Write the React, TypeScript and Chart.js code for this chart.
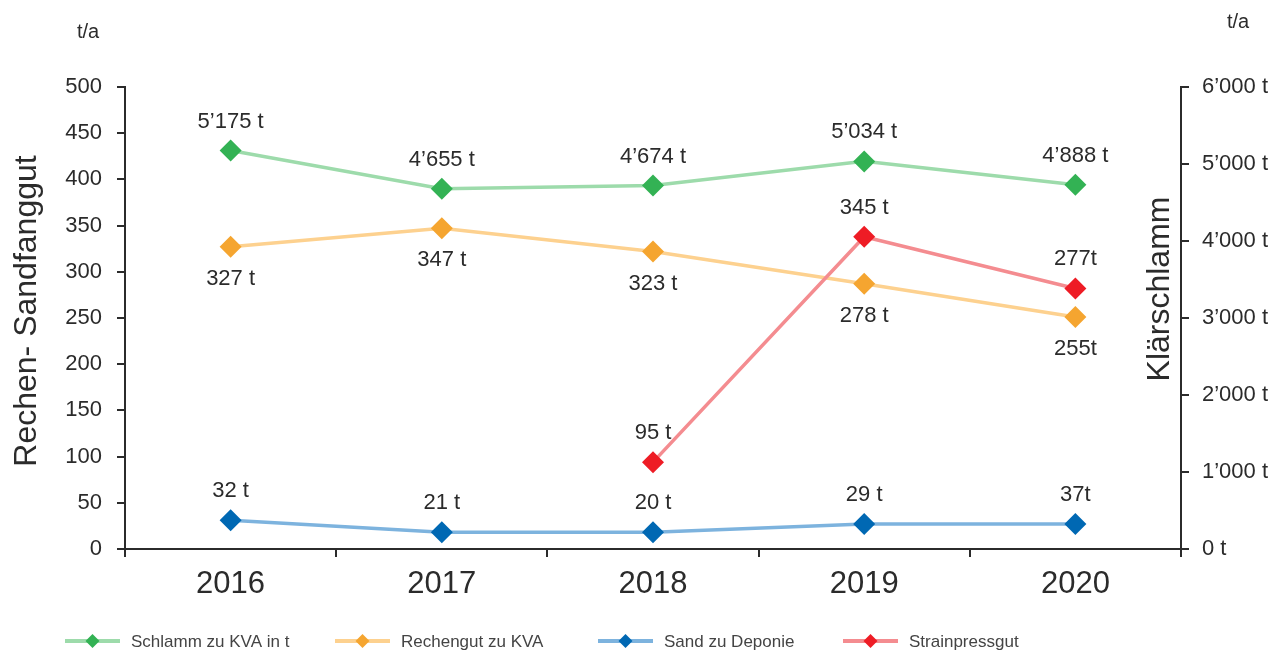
import React, { useEffect, useRef } from 'react';
import { Chart, registerables } from 'chart.js';
Chart.register(...registerables);

const FONT = "'Liberation Sans', Arial, sans-serif";
const TEXT = '#2b2b2b';

const years = ['2016', '2017', '2018', '2019', '2020'];

const schlammValues = [5175, 4680, 4720, 5034, 4730];
const schlammLabels = ['5’175 t', '4’655 t', '4’674 t', '5’034 t', '4’888 t'];

const rechengutValues = [327, 347, 322, 287, 251];
const rechengutLabels = ['327 t', '347 t', '323 t', '278 t', '255t'];

const sandValues = [31, 18, 18, 27, 27];
const sandLabels = ['32 t', '21 t', '20 t', '29 t', '37t'];

const strainValues = [null, null, 94, 338, 282];
const strainLabels = ['', '', '95 t', '345 t', '277t'];

const seriesNames = ['Schlamm zu KVA in t', 'Rechengut zu KVA', 'Sand zu Deponie', 'Strainpressgut'];
const markerColors = ['#33b254', '#f5a530', '#0068b3', '#ee1c25'];
const lineColors = ['#9ddbab', '#fdd18f', '#7db3de', '#f48c90'];
const labelSides = ['top', 'bottom', 'top', 'top'];
const legendX = [65, 335, 598, 843];

const formatRight = (v: number) => {
  const s = String(v);
  return (s.length > 3 ? s.slice(0, s.length - 3) + '’' + s.slice(s.length - 3) : s) + ' t';
};

const labelPlugin = {
  id: 'customLabels',
  afterDatasetsDraw(chart: any) {
    const ctx = chart.ctx;
    const allLabels = [schlammLabels, rechengutLabels, sandLabels, strainLabels];
    ctx.save();
    ctx.font = `22px ${FONT}`;
    ctx.fillStyle = TEXT;
    ctx.textAlign = 'center';
    ctx.textBaseline = 'middle';
    chart.data.datasets.forEach((ds: any, i: number) => {
      const meta = chart.getDatasetMeta(i);
      meta.data.forEach((pt: any, j: number) => {
        const txt = allLabels[i][j];
        if (!txt || ds.data[j] == null) return;
        const off = labelSides[i] === 'top' ? -29 : 32;
        ctx.fillText(txt, pt.x, pt.y + off);
      });
    });
    ctx.restore();
  },
  afterDraw(chart: any) {
    const ctx = chart.ctx;
    ctx.save();
    ctx.fillStyle = TEXT;
    // axis titles
    ctx.font = `32px ${FONT}`;
    ctx.textAlign = 'center';
    ctx.textBaseline = 'middle';
    ctx.save();
    ctx.translate(27, 311);
    ctx.rotate(-Math.PI / 2);
    ctx.fillText('Rechen- Sandfanggut', 0, 0);
    ctx.restore();
    ctx.save();
    ctx.translate(1160, 289);
    ctx.rotate(-Math.PI / 2);
    ctx.fillText('Klärschlamm', 0, 0);
    ctx.restore();
    // units
    ctx.font = `20px ${FONT}`;
    ctx.fillText('t/a', 88, 32);
    ctx.fillText('t/a', 1238, 22);
    // legend
    const ly = 641;
    seriesNames.forEach((name, i) => {
      const x0 = legendX[i];
      ctx.strokeStyle = lineColors[i];
      ctx.lineWidth = 4;
      ctx.beginPath();
      ctx.moveTo(x0, ly);
      ctx.lineTo(x0 + 55, ly);
      ctx.stroke();
      const cx = x0 + 27.5;
      const r = 7;
      ctx.fillStyle = markerColors[i];
      ctx.beginPath();
      ctx.moveTo(cx, ly - r);
      ctx.lineTo(cx + r, ly);
      ctx.lineTo(cx, ly + r);
      ctx.lineTo(cx - r, ly);
      ctx.closePath();
      ctx.fill();
      ctx.fillStyle = '#444';
      ctx.font = `17px ${FONT}`;
      ctx.textAlign = 'left';
      ctx.fillText(name, x0 + 66, ly + 1);
    });
    ctx.restore();
  },
};

export default function App() {
  const ref = useRef<HTMLCanvasElement | null>(null);
  useEffect(() => {
    if (!ref.current) return;
    const mk = (i: number, data: any[], axis: string) => ({
      label: seriesNames[i],
      data,
      yAxisID: axis,
      borderColor: lineColors[i],
      backgroundColor: markerColors[i],
      pointBackgroundColor: markerColors[i],
      pointBorderColor: markerColors[i],
      pointBorderWidth: 0,
      pointStyle: 'rectRot',
      pointRadius: 11,
      pointHoverRadius: 11,
      borderWidth: 3.5,
      tension: 0,
      spanGaps: false,
      order: i === 3 ? 0 : 1,
    });
    const chart = new Chart(ref.current, {
      type: 'line',
      data: {
        labels: years,
        datasets: [
          mk(0, schlammValues, 'y1'),
          mk(1, rechengutValues, 'y'),
          mk(2, sandValues, 'y'),
          mk(3, strainValues, 'y'),
        ],
      },
      options: {
        animation: false,
        responsive: false,
        maintainAspectRatio: false,
        events: [],
        layout: { padding: { top: 87, left: 0, right: 0, bottom: 0 } },
        plugins: { legend: { display: false }, tooltip: { enabled: false } },
        scales: {
          x: {
            type: 'category',
            offset: true,
            grid: { offset: true, drawOnChartArea: false, drawTicks: true, tickLength: 8, color: '#2b2b2b', lineWidth: 2 },
            border: { display: true, color: '#2b2b2b', width: 2 },
            ticks: { color: TEXT, font: { family: FONT, size: 31 }, padding: 9 },
            afterFit: (s: any) => { s.height = 104; },
          },
          y: {
            position: 'left',
            min: 0,
            max: 500,
            ticks: { stepSize: 50, color: TEXT, font: { family: FONT, size: 22 }, padding: 15 },
            grid: { drawOnChartArea: false, tickLength: 8, color: '#2b2b2b', lineWidth: 2 },
            border: { display: true, color: '#2b2b2b', width: 2 },
            afterFit: (s: any) => { s.width = 125; },
          },
          y1: {
            position: 'right',
            min: 0,
            max: 6000,
            ticks: { stepSize: 1000, color: TEXT, font: { family: FONT, size: 22 }, padding: 13, callback: (v: any) => formatRight(Number(v)) },
            grid: { drawOnChartArea: false, tickLength: 8, color: '#2b2b2b', lineWidth: 2 },
            border: { display: true, color: '#2b2b2b', width: 2 },
            afterFit: (s: any) => { s.width = 104; },
          },
        },
      },
      plugins: [labelPlugin],
    } as any);
    return () => chart.destroy();
  }, []);
  return (
    <div style={{ position: 'fixed', left: 0, top: 0, width: 1285, height: 653, background: '#fff' }}>
      <canvas ref={ref} width={1285} height={653} style={{ width: 1285, height: 653, display: 'block' }} />
    </div>
  );
}
